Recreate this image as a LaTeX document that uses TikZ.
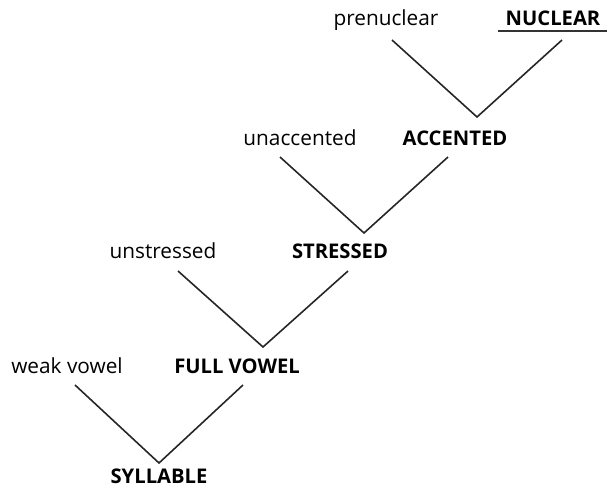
\documentclass[tikz,border=0pt]{standalone}
\usepackage{fontspec}
\setmainfont{Open Sans}
\begin{document}
\begin{tikzpicture}[x=1pt,y=-1pt,
  lbl/.style={anchor=base,inner sep=0pt,font=\fontsize{20.8}{24}\selectfont},
  hd/.style={lbl,font=\fontsize{20.2}{24}\selectfont\bfseries},
  arm/.style={line width=1.6pt,draw=black!85,line join=miter}]
\useasboundingbox (0,0) rectangle (607,488);
% labels
\node[lbl] (pre) at (386,25) {prenuclear};
\node[hd] (nuc) at (553,25) {NUCLEAR};
\node[lbl] (unacc) at (300,145) {unaccented};
\node[hd] (acc) at (455,145) {ACCENTED};
\node[lbl] (unstr) at (163,258) {unstressed};
\node[hd] (str) at (340,258) {STRESSED};
\node[lbl] (weak) at (67,373) {weak vowel};
\node[hd] (full) at (237,373) {FULL VOWEL};
\node[hd,text depth=0pt] (syl) at (159,483.5) {SYLLABLE};
% underline under NUCLEAR
\coordinate (ulA) at (498,31);
\coordinate (ulB) at (607,31);
\draw[line width=1.2pt,draw=black!80] (ulA) -- (ulB);
% V shapes
\coordinate (a1) at (392,40); \coordinate (b1) at (477,117); \coordinate (c1) at (562,40);
\coordinate (a2) at (280,157); \coordinate (b2) at (364,233); \coordinate (c2) at (448,157);
\coordinate (a3) at (178,271); \coordinate (b3) at (263,347); \coordinate (c3) at (348,271);
\coordinate (a4) at (75,385); \coordinate (b4) at (159,463); \coordinate (c4) at (243,385);
\draw[arm] (a1) -- (b1) -- (c1);
\draw[arm] (a2) -- (b2) -- (c2);
\draw[arm] (a3) -- (b3) -- (c3);
\draw[arm] (a4) -- (b4) -- (c4);
\end{tikzpicture}
\end{document}
